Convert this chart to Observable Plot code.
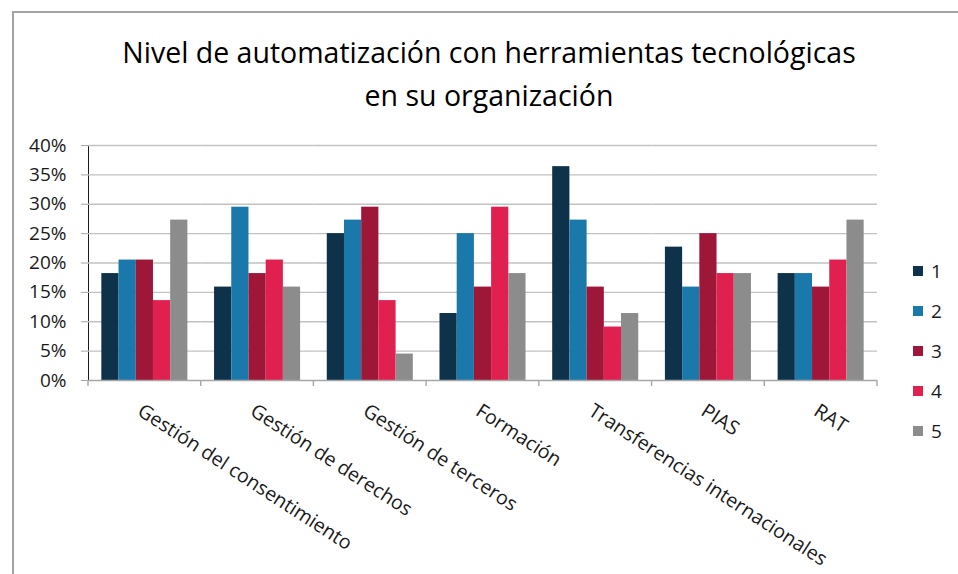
<!DOCTYPE html>
<html>
<head>
<meta charset="utf-8">
<script src="https://cdn.jsdelivr.net/npm/d3@7"></script>
<script src="https://cdn.jsdelivr.net/npm/@observablehq/plot@0.6"></script>
<style>
  html, body { margin: 0; padding: 0; background: #fff; }
  #wrap { position: relative; width: 958px; height: 574px; overflow: hidden; background: #fff; font-family: "Open Sans", sans-serif; }
  #border { position: absolute; left: 12px; top: 11px; width: 1000px; height: 1000px; border-left: 2px solid #a3a3a3; border-top: 2px solid #a3a3a3; }
  #title { position: absolute; left: 20px; width: 938px; top: 31px; text-align: center; font-size: 28.5px; line-height: 43px; color: #000; }
  #legend { position: absolute; left: 913px; top: 0; }
  .lg { position: absolute; left: 0; height: 40px; display: flex; align-items: center; font-size: 19px; color: #1a1a1a; white-space: nowrap; }
  .sw { width: 10px; height: 10px; margin-right: 8px; }
  svg { position: absolute; left: 0; top: 0; }
</style>
</head>
<body>
<div id="wrap">
  <div id="border"></div>
  <div id="title">Nivel de automatización con herramientas tecnológicas<br>en su organización</div>
  <div id="legend"></div>
</div>
<script>
// ---- data ----
const categories = [
  "Gestión del consentimiento",
  "Gestión de derechos",
  "Gestión de terceros",
  "Formación",
  "Transferencias internacionales",
  "PIAS",
  "RAT"
];
const series = ["1", "2", "3", "4", "5"];
const values1 = [18.2, 15.9, 25.0, 11.4, 36.4, 22.7, 18.2];
const values2 = [20.5, 29.5, 27.3, 25.0, 27.3, 15.9, 18.2];
const values3 = [20.5, 18.2, 29.5, 15.9, 15.9, 25.0, 15.9];
const values4 = [13.6, 20.5, 13.6, 29.5, 9.1, 18.2, 20.5];
const values5 = [27.3, 15.9, 4.5, 18.2, 11.4, 18.2, 27.3];
const yTicks = [0, 0.05, 0.10, 0.15, 0.20, 0.25, 0.30, 0.35, 0.40];
const colors = ["#0d3249", "#1a78aa", "#9e1638", "#e0204f", "#8c8c8c"];

const allValues = [values1, values2, values3, values4, values5];
const data = [];
series.forEach((s, j) => {
  categories.forEach((c, i) => {
    data.push({cat: c, series: s, value: allValues[j][i] / 100});
  });
});

const plot = Plot.plot({
  width: 958,
  height: 574,
  marginTop: 145,
  marginBottom: 194,
  marginLeft: 88,
  marginRight: 81,
  style: {background: "transparent", fontFamily: "Open Sans, sans-serif", fontSize: "19px", color: "#1a1a1a", overflow: "visible"},
  fx: {domain: categories, padding: 0, round: false, axis: null, label: null},
  x: {domain: series, paddingInner: 0, paddingOuter: 0.775, round: false, axis: null, label: null},
  y: {domain: [0, 0.4], ticks: yTicks, tickFormat: d3.format(".0%"), tickSize: 7, tickPadding: 15, line: true, label: null},
  color: {domain: series, range: colors},
  marks: [
    Plot.ruleY(yTicks.slice(1), {stroke: "#c2c2c2", strokeWidth: 1.4}),
    Plot.barY(data, {fx: "cat", x: "series", y: "value", fill: "series"}),
    Plot.ruleY([0], {stroke: "#a6a6a6", strokeWidth: 1.4}),
    Plot.text(categories, {
      fx: d => d, text: d => d, frameAnchor: "bottom",
      rotate: 33, textAnchor: "start", lineAnchor: "top",
      dx: -1, dy: 22, fontSize: 19.6, fill: "#1a1a1a"
    })
  ]
});

document.getElementById("wrap").appendChild(plot);

// gray axis tick marks & line
d3.select(plot).selectAll('g[aria-label^="y-axis"] path, g[aria-label^="y-axis"] line')
  .attr("stroke", "#a6a6a6");

// category boundary ticks from the fx scale
try {
  const fx = plot.scale("fx");
  const yS = plot.scale("y");
  const band = d3.scaleBand().domain(fx.domain).range(fx.range)
    .paddingInner(fx.paddingInner ?? 0).paddingOuter(fx.paddingOuter ?? 0).align(fx.align ?? 0.5);
  const y0 = Math.max(...yS.range);
  const edges = fx.domain.map(d => band(d)).concat([band(fx.domain[fx.domain.length - 1]) + band.bandwidth()]);
  const g = d3.select(plot).append("g").attr("aria-label", "category ticks");
  g.selectAll("line").data(edges).join("line")
    .attr("x1", d => d).attr("x2", d => d)
    .attr("y1", y0).attr("y2", y0 + 6)
    .attr("stroke", "#a6a6a6").attr("stroke-width", 1.4);
} catch (e) { console.error(e); }

// legend
const legend = document.getElementById("legend");
series.forEach((s, i) => {
  const row = document.createElement("div");
  row.className = "lg";
  row.style.top = (251 + i * 40) + "px";
  const sw = document.createElement("span");
  sw.className = "sw";
  sw.style.background = colors[i];
  row.appendChild(sw);
  row.appendChild(document.createTextNode(s));
  legend.appendChild(row);
});
</script>
</body>
</html>
